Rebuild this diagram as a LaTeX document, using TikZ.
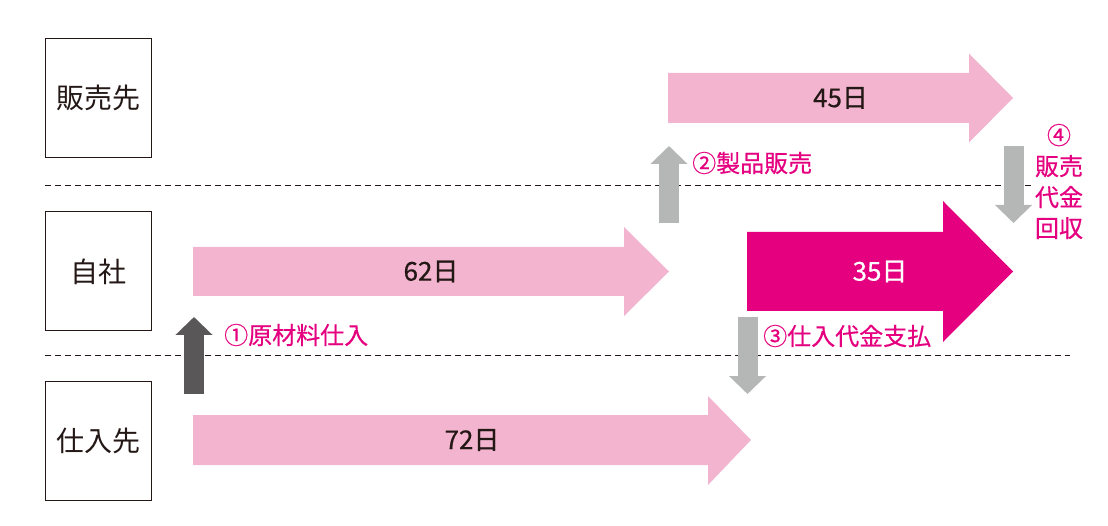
\documentclass[tikz,border=0pt]{standalone}
\usepackage{fontspec}
\usepackage{xcolor}
\usepackage{tikz}
\usetikzlibrary{arrows.meta, positioning}
\setmainfont{Noto Sans CJK JP}
\newfontfamily\jpmid{Noto Sans CJK JP}[FakeBold=0.5]
\definecolor{kpink}{HTML}{F3B4CF}
\definecolor{kmagenta}{HTML}{E4007F}
\definecolor{kgray}{HTML}{B5B6B6}
\definecolor{kdark}{HTML}{595757}
\definecolor{kink}{HTML}{231815}

\begin{document}
\begin{tikzpicture}[x=1pt, y=-1pt,
    every node/.style={text=kink},
    party/.style={draw=kink, line width=1pt, minimum width=106pt, minimum height=119pt,
                  inner sep=0pt, font=\fontsize{28}{30}\selectfont},
    days/.style={inner sep=0pt, font=\jpmid\fontsize{26}{28}\selectfont},
    steplabel/.style={inner sep=0pt, text=kmagenta, font=\jpmid\fontsize{24}{31}\selectfont},
    sep/.style={draw=kink, line width=0.8pt, dash pattern=on 6pt off 4pt},
    flowup/.style={line width=20pt, -{Triangle[width=36pt, length=18pt]}},
]

\useasboundingbox (0,0) rectangle (1108,526);

%% 取引先と自社
\node[party] at (98.5,98)    (buyer)    {販売先};
\node[party] at (98.5,271.5) (self)     {自社};
\node[party] at (98.5,440.5) (supplier) {仕入先};

%% 区切り線
\coordinate (lineA) at (45,185);
\coordinate (lineB) at (1033,185);
\coordinate (lineC) at (45,355);
\coordinate (lineD) at (1070,355);
\draw[sep] (lineA) -- (lineB);
\draw[sep] (lineC) -- (lineD);

%% 期間の矢印
\fill[kpink] (668,73) -- (969,73) -- (969,53.5) -- (1013,98) -- (969,142.5) -- (969,123) -- (668,123) -- cycle;
\node[days] at (840.5,98) (d45) {45日};

\fill[kpink] (193,247) -- (624,247) -- (624,227) -- (669,271.5) -- (624,316) -- (624,296) -- (193,296) -- cycle;
\node[days] at (431,271.5) (d62) {62日};

\fill[kpink] (193,415) -- (708,415) -- (708,396) -- (751,440) -- (708,485) -- (708,465) -- (193,465) -- cycle;
\node[days] at (472,440) (d72) {72日};

\fill[kmagenta] (747,232) -- (943,232) -- (943,201) -- (1013,271.5) -- (943,342) -- (943,311) -- (747,311) -- cycle;
\node[days, text=white] at (880,271.5) (d35) {35日};

%% 取引の流れ
\coordinate (s1) at (194,394);  \coordinate (e1) at (194,317);
\coordinate (s2) at (669,223);  \coordinate (e2) at (669,146);
\coordinate (s3) at (747.5,317); \coordinate (e3) at (747.5,394);
\coordinate (s4) at (1013.5,146); \coordinate (e4) at (1013.5,223);
\draw[flowup, kdark] (s1) -- (e1);
\draw[flowup, kgray] (s2) -- (e2);
\draw[flowup, kgray] (s3) -- (e3);
\draw[flowup, kgray] (s4) -- (e4);

\node[steplabel, anchor=west] at (224,335) (step1) {①原材料仕入};
\node[steplabel, anchor=west] at (692,163) (step2) {②製品販売};
\node[steplabel, anchor=west] at (763,336) (step3) {③仕入代金支払};
\node[steplabel, align=center] at (1059,181.5) (step4) {④\\販売\\代金\\回収};

\end{tikzpicture}
\end{document}
